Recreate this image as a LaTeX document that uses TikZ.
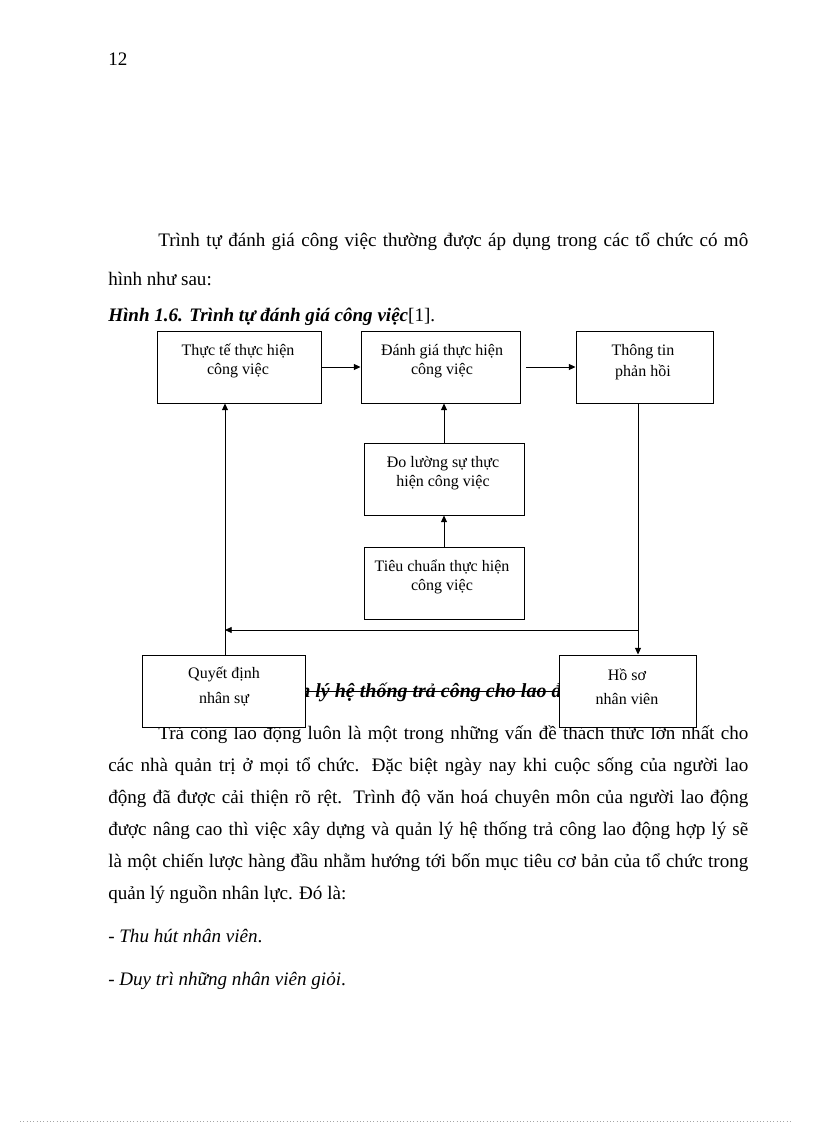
\documentclass[tikz,border=0pt]{standalone}
\usepackage{fontspec}
\setmainfont{Liberation Serif}
\usetikzlibrary{arrows.meta}
\newcommand\jl[2]{\makebox[#1][s]{#2}}
\tikzset{
  box/.style={draw, fill=white, line width=0.75pt, minimum width=#1*0.75pt, minimum height=54pt, inner sep=0pt},
  boxtxt/.style={align=center, inner sep=0pt, font=\fontsize{12}{14.25}\selectfont},
  body/.style={anchor=base west, inner sep=0pt, font=\fontsize{14.3}{16}\selectfont},
  arr/.style={line width=0.6pt, -{Triangle[length=5pt,width=4.5pt]}},
  conn/.style={line width=0.6pt}
}
\begin{document}
\begin{tikzpicture}[x=0.75pt,y=-0.75pt]
\useasboundingbox[fill=white] (0,0) rectangle (816,1123);
% page number and text above
\node[body] (pg) at (108,66) {12};
\node[body] (l1) at (158,247) {\jl{442.5pt}{Trình tự đánh giá công việc thường được áp dụng trong các tổ chức có mô}};
\node[body] (l2) at (108,285) {hình như sau:};
\node[body] (cap) at (108,321) {\textbf{\textit{Hình 1.6. Trình tự đánh giá công việc}}[1].};
% partly hidden heading with strike line
\node[anchor=base west, inner sep=0pt, font=\fontsize{15}{16}\bfseries\itshape\selectfont] (hd) at (299,697) {n lý hệ thống trả công cho lao đ};
% body text
\node[body] (b1) at (158,739) {\jl{442.5pt}{Trả công lao động luôn là một trong những vấn đề thách thức lớn nhất cho}};
\node[body] (b2) at (108,771) {\jl{480pt}{các nhà quản trị ở mọi tổ chức. Đặc biệt ngày nay khi cuộc sống của người lao}};
\node[body] (b3) at (108,803) {\jl{480pt}{động đã được cải thiện rõ rệt. Trình độ văn hoá chuyên môn của người lao động}};
\node[body] (b4) at (108,835) {\jl{480pt}{được nâng cao thì việc xây dựng và quản lý hệ thống trả công lao động hợp lý sẽ}};
\node[body] (b5) at (108,867) {\jl{480pt}{là một chiến lược hàng đầu nhằm hướng tới bốn mục tiêu cơ bản của tổ chức trong}};
\node[body] (b6) at (108,899) {quản lý nguồn nhân lực. Đó là:};
\node[body] (i1) at (108,942) {- \textit{Thu hút nhân viên}.};
\node[body] (i2) at (108,985) {- \textit{Duy trì những nhân viên giỏi}.};
% boxes
\node[box=164] (A) at (239,367) {};
\node[box=159] (B) at (440.5,367) {};
\node[box=137] (C) at (644.5,367) {};
\node[box=160] (D) at (444,479) {};
\node[box=160] (E) at (444,583) {};
\coordinate (s) at (0,691);
\draw[conn] (s -| 305,0) -- (s -| 559,0);
\node[box=163] (F) at (223.5,691) {};
\node[box=137] (G) at (627.5,691) {};
% box texts
\node[boxtxt] (tA) at (238,361) {Thực tế thực hiện\\công việc};
\node[boxtxt] (tB) at (442,361) {Đánh giá thực hiện\\công việc};
\node[boxtxt] (tC) at (643,362) {Thông tin\\[1.5pt]phản hồi};
\node[boxtxt] (tD) at (443,473) {Đo lường sự thực\\hiện công việc};
\node[boxtxt] (tE) at (442,577) {Tiêu chuẩn thực hiện\\công việc};
\node[boxtxt] (tF) at (224,686.5) {Quyết định\\[4.5pt]nhân sự};
\node[boxtxt] (tG) at (627,687) {Hồ sơ\\[3.5pt]nhân viên};
% connectors
\coordinate (j1) at (638,630);
\coordinate (j2) at (225,630);
\draw[arr] (A.east) -- (B.west);
\draw[arr] ([xshift=4pt]B.east) -- (C.west);
\draw[arr] (D.north) -- (D.north |- B.south);
\draw[arr] (E.north) -- (E.north |- D.south);
\draw[arr] (C.south -| j1) -- (G.north -| j1);
\draw[arr] (j1) -- (j2);
\draw[arr] (F.north -| j2) -- (A.south -| j2);
% bottom dotted rule
\coordinate (r1) at (20,1121);
\coordinate (r2) at (792,1121);
\draw[gray!70, dotted, line width=0.5pt] (r1) -- (r2);
\end{tikzpicture}
\end{document}
